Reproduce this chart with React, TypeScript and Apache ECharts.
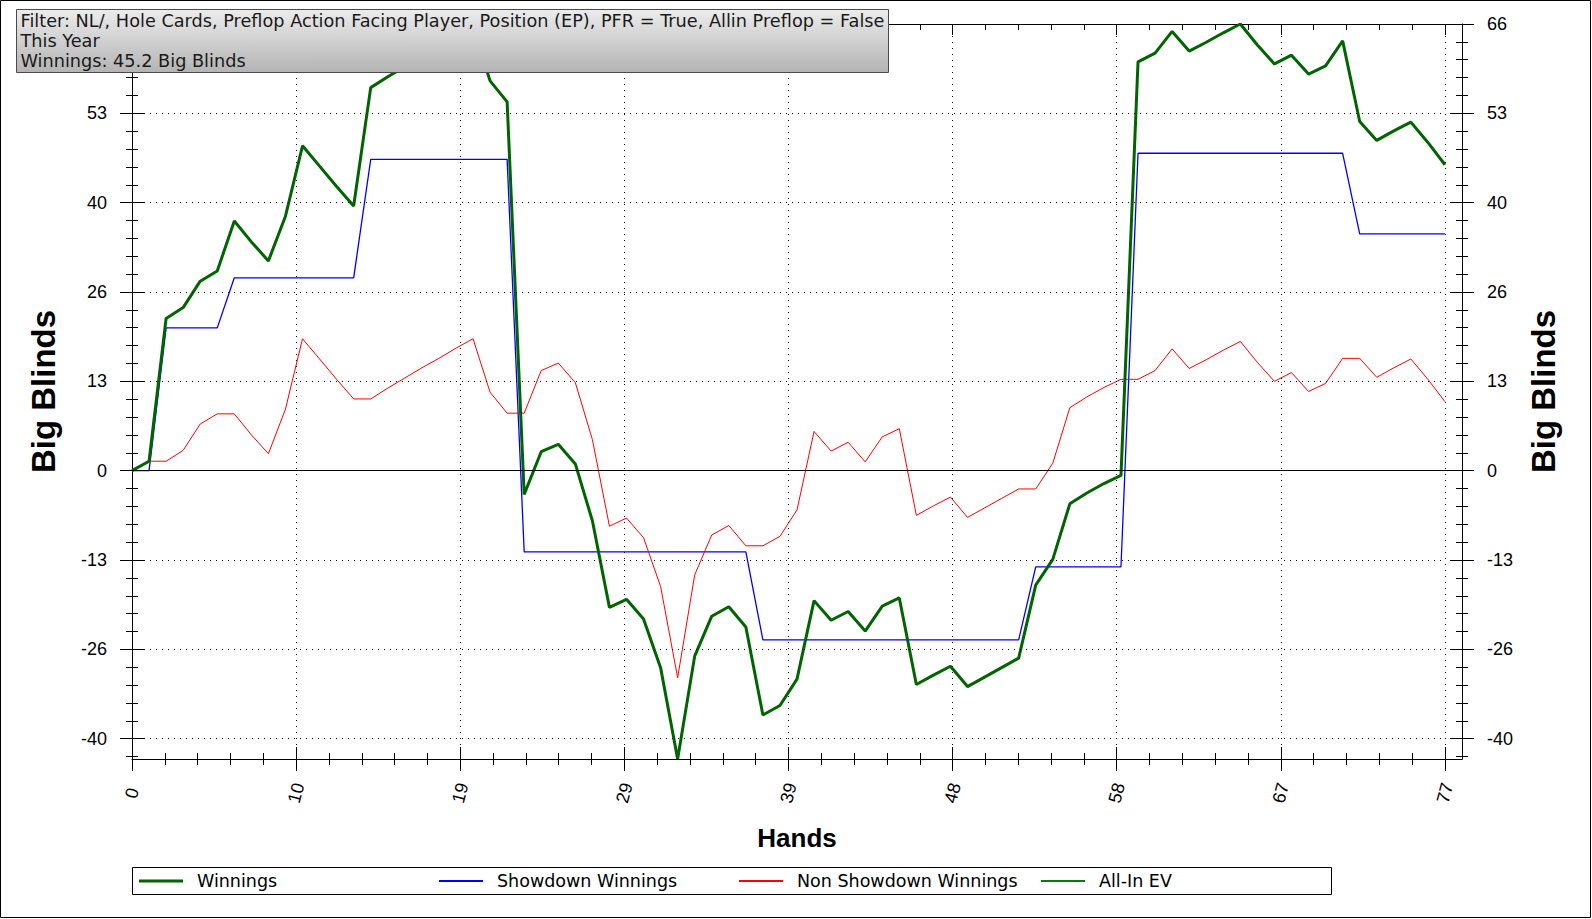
import React, { useEffect, useRef } from "react";
import * as echarts from "echarts";

// ---------------- data ----------------
const hands = [
  0, 1, 2, 3, 4, 5, 6, 7, 8, 9, 10, 11, 12, 13, 14, 15, 16, 17, 18, 19,
  20, 21, 22, 23, 24, 25, 26, 27, 28, 29, 30, 31, 32, 33, 34, 35, 36, 37, 38, 39,
  40, 41, 42, 43, 44, 45, 46, 47, 48, 49, 50, 51, 52, 53, 54, 55, 56, 57, 58, 59,
  60, 61, 62, 63, 64, 65, 66, 67, 68, 69, 70, 71, 72, 73, 74, 75, 76, 77,
];

const winnings = [
  0, 1.4, 22.5, 24.1, 28.0, 29.5, 36.9, 33.8, 31.0, 37.6,
  48.0, 45.0, 42.0, 39.1, 56.6, 58.2, 59.7, 61.2, 62.6, 64.1,
  65.5, 57.6, 54.5, -3.5, 2.8, 3.9, 1.0, -7.4, -20.2, -19.0,
  -21.9, -29.1, -42.6, -27.4, -21.5, -20.1, -23.1, -36.1, -34.7, -30.8,
  -19.2, -22.1, -20.8, -23.7, -20.0, -18.8, -31.6, -30.2, -28.9, -31.9,
  -30.5, -29.1, -27.7, -16.9, -13.1, -4.9, -3.3, -1.9, -0.7, 60.4,
  61.7, 64.9, 62.0, 63.3, 64.7, 66.0, 62.9, 60.1, 61.4, 58.6,
  59.8, 63.5, 51.6, 48.8, 50.2, 51.5, 48.5, 45.2,
];

const showdownWinnings = [
  0, 0, 21.1, 21.1, 21.1, 21.1, 28.5, 28.5, 28.5, 28.5,
  28.5, 28.5, 28.5, 28.5, 46.0, 46.0, 46.0, 46.0, 46.0, 46.0,
  46.0, 46.0, 46.0, -12.0, -12.0, -12.0, -12.0, -12.0, -12.0, -12.0,
  -12.0, -12.0, -12.0, -12.0, -12.0, -12.0, -12.0, -25.0, -25.0, -25.0,
  -25.0, -25.0, -25.0, -25.0, -25.0, -25.0, -25.0, -25.0, -25.0, -25.0,
  -25.0, -25.0, -25.0, -14.2, -14.2, -14.2, -14.2, -14.2, -14.2, 46.9,
  46.9, 46.9, 46.9, 46.9, 46.9, 46.9, 46.9, 46.9, 46.9, 46.9,
  46.9, 46.9, 35.0, 35.0, 35.0, 35.0, 35.0, 35.0,
];

const nonShowdownWinnings = [
  0, 1.4, 1.4, 3.0, 6.9, 8.4, 8.4, 5.3, 2.5, 9.1,
  19.5, 16.5, 13.5, 10.6, 10.6, 12.2, 13.7, 15.2, 16.6, 18.1,
  19.5, 11.6, 8.5, 8.5, 14.8, 15.9, 13.0, 4.6, -8.2, -7.0,
  -9.9, -17.1, -30.6, -15.4, -9.5, -8.1, -11.1, -11.1, -9.7, -5.8,
  5.8, 2.9, 4.2, 1.3, 5.0, 6.2, -6.6, -5.2, -3.9, -6.9,
  -5.5, -4.1, -2.7, -2.7, 1.1, 9.3, 10.9, 12.3, 13.5, 13.5,
  14.8, 18.0, 15.1, 16.4, 17.8, 19.1, 16.0, 13.2, 14.5, 11.7,
  12.9, 16.6, 16.6, 13.8, 15.2, 16.5, 13.5, 10.2,
];

const allInEV = [
  0, 1.4, 22.5, 24.1, 28.0, 29.5, 36.9, 33.8, 31.0, 37.6,
  48.0, 45.0, 42.0, 39.1, 56.6, 58.2, 59.7, 61.2, 62.6, 64.1,
  65.5, 57.6, 54.5, -3.5, 2.8, 3.9, 1.0, -7.4, -20.2, -19.0,
  -21.9, -29.1, -42.6, -27.4, -21.5, -20.1, -23.1, -36.1, -34.7, -30.8,
  -19.2, -22.1, -20.8, -23.7, -20.0, -18.8, -31.6, -30.2, -28.9, -31.9,
  -30.5, -29.1, -27.7, -16.9, -13.1, -4.9, -3.3, -1.9, -0.7, 60.4,
  61.7, 64.9, 62.0, 63.3, 64.7, 66.0, 62.9, 60.1, 61.4, 58.6,
  59.8, 63.5, 51.6, 48.8, 50.2, 51.5, 48.5, 45.2,
];

// axis ticks (labels are the rounded tick values)
const xMajorTicks = [0, 9.625, 19.25, 28.875, 38.5, 48.125, 57.75, 67.375, 77];
const yMajorTicks = [-39.6, -26.4, -13.2, 0, 13.2, 26.4, 39.6, 52.8, 66];
// the left "66" label sits under the title box in the reference
const yLeftLabelTicks = [-39.6, -26.4, -13.2, 0, 13.2, 26.4, 39.6, 52.8];
const X_MIN = 0;
const X_MAX = 78;
const X_LAST_HAND = 77;
const Y_MIN = -42.6;
const Y_MAX = 66;

const titleLines = [
  "Filter: NL/, Hole Cards, Preflop Action Facing Player, Position (EP), PFR = True, Allin Preflop = False",
  "This Year",
  "Winnings: 45.2 Big Blinds",
];

// minor ticks: 5 sub-divisions per major
const xMinorTicks: number[] = [];
for (let k = 1; k < 40; k++) if (k % 5 !== 0) xMinorTicks.push((77 / 40) * k);
const yMinorTicks: number[] = [];
for (let k = -16; k <= 25; k++) if (k % 5 !== 0) yMinorTicks.push(Math.round(2.64 * k * 1000) / 1000);

const AXIS_FONT = '"Liberation Sans", Arial, sans-serif';
const UI_FONT = '"DejaVu Sans", Verdana, sans-serif';
const DOTS = [1, 5];

function baseAxis(kind: "x" | "y", position: string) {
  return {
    type: "value",
    position,
    min: kind === "x" ? X_MIN : Y_MIN,
    max: kind === "x" ? X_MAX : Y_MAX,
    axisLine: { show: false, onZero: false },
    axisLabel: { show: false },
    splitLine: { show: false },
    minorTick: { show: false },
    minorSplitLine: { show: false },
    axisTick: { show: false },
    axisPointer: { show: false },
    silent: true,
  };
}

function tickAxis(kind: "x" | "y", position: string, values: number[], length: number, inside: boolean) {
  return {
    ...baseAxis(kind, position),
    axisTick: {
      show: true,
      inside,
      length,
      customValues: values,
      lineStyle: { color: "#000", width: 1 },
    },
  };
}

const roundFmt = (v: number) => String(Math.round(v));

const option: any = {
  animation: false,
  backgroundColor: "#ffffff",
  textStyle: { fontFamily: AXIS_FONT },
  grid: { left: 132, right: 130, top: 24, bottom: 160, containLabel: false, outerBoundsMode: "none" },
  xAxis: [
    {
      ...baseAxis("x", "bottom"),
      axisLine: { show: true, onZero: false, lineStyle: { color: "#000", width: 1 } },
      axisTick: { show: true, inside: false, length: 12, customValues: xMajorTicks, lineStyle: { color: "#000", width: 1 } },
      axisLabel: {
        show: true,
        customValues: xMajorTicks,
        formatter: roundFmt,
        rotate: 75,
        align: "center",
        verticalAlign: "middle",
        margin: 34,
        color: "#000",
        fontSize: 18,
        fontFamily: AXIS_FONT,
      },
      splitLine: { show: true, lineStyle: { color: "#000", width: 1, type: DOTS } },
      name: "Hands",
      nameLocation: "middle",
      nameGap: 66,
      nameMoveOverlap: false,
      nameTextStyle: { fontSize: 26, fontWeight: "bold", color: "#000", fontFamily: AXIS_FONT },
    },
    tickAxis("x", "bottom", xMajorTicks, 12, true),
    tickAxis("x", "bottom", xMinorTicks, 6, false),
    tickAxis("x", "bottom", xMinorTicks, 6, true),
    {
      ...tickAxis("x", "top", xMajorTicks, 11, true),
      axisLine: { show: true, onZero: false, lineStyle: { color: "#000", width: 1 } },
    },
    tickAxis("x", "top", xMinorTicks, 6, true),
  ],
  yAxis: [
    {
      ...baseAxis("y", "left"),
      axisLine: { show: true, onZero: false, lineStyle: { color: "#000", width: 1 } },
      axisTick: { show: true, inside: false, length: 12, customValues: yMajorTicks, lineStyle: { color: "#000", width: 1 } },
      axisLabel: {
        show: true,
        customValues: yLeftLabelTicks,
        formatter: roundFmt,
        margin: 25,
        color: "#000",
        fontSize: 18,
        fontFamily: AXIS_FONT,
      },
      name: "Big Blinds",
      nameLocation: "middle",
      nameRotate: 90,
      nameGap: 72,
      nameMoveOverlap: false,
      nameTextStyle: { fontSize: 33, fontWeight: "bold", color: "#000", fontFamily: AXIS_FONT },
    },
    tickAxis("y", "left", yMajorTicks, 12, true),
    tickAxis("y", "left", yMinorTicks, 6, false),
    tickAxis("y", "left", yMinorTicks, 6, true),
    {
      ...baseAxis("y", "right"),
      axisLine: { show: true, onZero: false, lineStyle: { color: "#000", width: 1 } },
      axisTick: { show: true, inside: false, length: 12, customValues: yMajorTicks, lineStyle: { color: "#000", width: 1 } },
      axisLabel: {
        show: true,
        customValues: yMajorTicks,
        formatter: roundFmt,
        margin: 25,
        color: "#000",
        fontSize: 18,
        fontFamily: AXIS_FONT,
      },
      name: "Big Blinds",
      nameLocation: "middle",
      nameRotate: 90,
      nameGap: 65,
      nameMoveOverlap: false,
      nameTextStyle: { fontSize: 33, fontWeight: "bold", color: "#000", fontFamily: AXIS_FONT },
    },
    tickAxis("y", "right", yMajorTicks, 12, true),
    tickAxis("y", "right", yMinorTicks, 6, false),
    tickAxis("y", "right", yMinorTicks, 6, true),
  ],
  legend: [
    { name: "Winnings", left: 139, h: 3 },
    { name: "Showdown Winnings", left: 439, h: 2 },
    { name: "Non Showdown Winnings", left: 739, h: 2 },
    { name: "All-In EV", left: 1041, h: 2 },
  ].map((l) => ({
    data: [l.name],
    left: l.left,
    top: 872,
    padding: 0,
    icon: "rect",
    itemWidth: 44,
    itemHeight: l.h,
    selectedMode: false,
    textStyle: { fontSize: 17.5, fontFamily: UI_FONT, color: "#000", padding: [0, 0, 0, 9] },
  })),
  series: [
    {
      name: "All-In EV",
      type: "line",
      data: hands.map((h, i) => [h, allInEV[i]]),
      symbol: "none",
      showSymbol: false,
      color: "#008000",
      lineStyle: { color: "#008000", width: 1 },
      markLine: {
        silent: true,
        symbol: ["none", "none"],
        label: { show: false },
        emphasis: { disabled: true },
        data: [
          // dotted horizontal grid lines, from the first to the last hand
          ...yMajorTicks
            .filter((v) => v !== 0)
            .map((v) => [
              { coord: [X_MIN, v], lineStyle: { color: "#000", width: 1, type: DOTS } },
              { coord: [X_LAST_HAND, v] },
            ]),
          // solid zero line across the whole plot
          { yAxis: 0, lineStyle: { color: "#000", width: 1, type: "solid" } },
        ],
      },
    },
    {
      name: "Showdown Winnings",
      type: "line",
      data: hands.map((h, i) => [h, showdownWinnings[i]]),
      symbol: "none",
      showSymbol: false,
      color: "#0000ff",
      lineStyle: { color: "#0000ff", width: 1.3 },
    },
    {
      name: "Non Showdown Winnings",
      type: "line",
      data: hands.map((h, i) => [h, nonShowdownWinnings[i]]),
      symbol: "none",
      showSymbol: false,
      color: "#ff0000",
      lineStyle: { color: "#ff0000", width: 1 },
    },
    {
      name: "Winnings",
      type: "line",
      data: hands.map((h, i) => [h, winnings[i]]),
      symbol: "none",
      showSymbol: false,
      color: "#006400",
      lineStyle: { color: "#006400", width: 3 },
    },
  ],
  graphic: {
    elements: [
      {
        type: "rect",
        z: 50,
        silent: true,
        shape: { x: 0.5, y: 0.5, width: 1590, height: 917 },
        style: { fill: "none", stroke: "#000", lineWidth: 1 },
      },
      {
        type: "rect",
        z: 50,
        silent: true,
        shape: { x: 132.5, y: 867.5, width: 1199, height: 27 },
        style: { fill: "none", stroke: "#000", lineWidth: 1 },
      },
      {
        type: "rect",
        z: 100,
        silent: true,
        shape: { x: 16.5, y: 9.5, width: 872, height: 63 },
        style: {
          fill: new echarts.graphic.LinearGradient(0, 0, 0.008, 1.83, [
            { offset: 0, color: "#ececec" },
            { offset: 1, color: "#858585" },
          ]),
          stroke: "#4a4a4a",
          lineWidth: 1,
        },
      },
      ...titleLines.map((t, i) => ({
        type: "text",
        z: 101,
        silent: true,
        x: 20.5,
        y: 20.5 + i * 20.2,
        style: {
          text: t,
          font: `17.7px ${UI_FONT}`,
          fill: "#1a1a1a",
          align: "left",
          verticalAlign: "middle",
        },
      })),
    ],
  },
};

export default function App() {
  const ref = useRef<HTMLDivElement>(null);
  useEffect(() => {
    if (!ref.current) return;
    const chart = echarts.init(ref.current, null, { renderer: "svg", width: 1592, height: 919 });
    chart.setOption(option);
    return () => chart.dispose();
  }, []);
  return (
    <div
      ref={ref}
      style={{ position: "absolute", left: 0, top: 0, width: 1592, height: 919, background: "#fff" }}
    />
  );
}
